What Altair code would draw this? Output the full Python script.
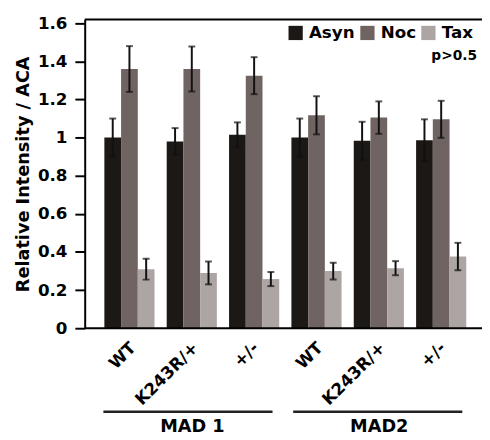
import altair as alt
import pandas as pd

# ---- data ----
groups = ["MAD1|WT", "MAD1|K243R/+", "MAD1|+/-", "MAD2|WT", "MAD2|K243R/+", "MAD2|+/-"]
series = ["Asyn", "Noc", "Tax"]
asyn = [1.00, 0.98, 1.015, 1.00, 0.983, 0.986]
asyn_err = [0.10, 0.07, 0.065, 0.10, 0.10, 0.11]
noc = [1.36, 1.36, 1.325, 1.117, 1.105, 1.096]
noc_err = [0.12, 0.118, 0.097, 0.10, 0.085, 0.097]
tax = [0.31, 0.29, 0.258, 0.30, 0.315, 0.376]
tax_err = [0.055, 0.06, 0.037, 0.044, 0.037, 0.072]
colors = ["#1c1816", "#6f6462", "#aca5a3"]
y_ticks = [0, 0.2, 0.4, 0.6, 0.8, 1.0, 1.2, 1.4, 1.6]
group_labels = ["MAD 1", "MAD2"]

rows = []
for vals, errs, s in [(asyn, asyn_err, "Asyn"), (noc, noc_err, "Noc"), (tax, tax_err, "Tax")]:
    for g, v, e in zip(groups, vals, errs):
        rows.append({"group": g, "series": s, "value": v, "lo": v - e, "hi": v + e})
df = pd.DataFrame(rows)

W, H = 396, 314
FONT = "DejaVu Sans"

x_axis = alt.Axis(
    title=None,
    ticks=False,
    domain=False,
    labelAngle=-45,
    labelAlign="right",
    labelBaseline="middle",
    labelFontSize=17,
    labelPadding=17,
    labelOverlap=False,
    labelOffset={"condition": {"test": "indexof(datum.value, '+/-') >= 0", "value": 2}, "value": 4},
    labelExpr="split(datum.label, '|')[1]",
)
x_scale = alt.Scale(paddingInner=0.1956, paddingOuter=0.2208, align=0.714)
x_enc = alt.X("group:N", sort=groups, scale=x_scale, axis=x_axis)
xoff = alt.XOffset("series:N", sort=series, scale=alt.Scale(paddingInner=0, paddingOuter=0))
y_scale = alt.Scale(domain=[0, 1.62], nice=False, zero=True)
y_axis = alt.Axis(
    values=y_ticks,
    tickCount=9,
    format=".1~f",
    tickSize=10,
    labelPadding=8,
    labelFontSize=17,
    labelOverlap=False,
    labelFlush=False,
    title="Relative Intensity / ACA",
    titleFont=FONT,
    titleFontSize=18,
    titleFontWeight="bold",
    titleColor="black",
    titlePadding=5,
    grid=False,
)

base = alt.Chart(df)

bars = base.mark_bar().encode(
    x=x_enc,
    xOffset=xoff,
    y=alt.Y("value:Q", scale=y_scale, axis=y_axis),
    color=alt.Color(
        "series:N",
        sort=series,
        scale=alt.Scale(domain=series, range=colors),
        legend=alt.Legend(
            title=None,
            orient="none",
            legendX=206,
            legendY=5,
            direction="horizontal",
            symbolType="square",
            symbolSize=210,
            symbolStrokeWidth=0,
            symbolOpacity=1,
            labelFont=FONT,
            labelFontWeight="bold",
            labelFontSize=17,
            labelColor="black",
            labelOffset=5,
            columnPadding=4,
            padding=0,
        ),
    ),
)

err = base.mark_rule(color="#111111", strokeWidth=2).encode(
    x=x_enc, xOffset=xoff, y=alt.Y("lo:Q", scale=y_scale, axis=y_axis), y2="hi:Q"
)
cap_hi = base.mark_tick(color="#111111", thickness=2, size=7, orient="horizontal").encode(
    x=x_enc, xOffset=xoff, y=alt.Y("hi:Q", scale=y_scale, axis=y_axis)
)
cap_lo = base.mark_tick(color="#111111", thickness=2, size=7, orient="horizontal").encode(
    x=x_enc, xOffset=xoff, y=alt.Y("lo:Q", scale=y_scale, axis=y_axis)
)

frame_top = alt.Chart(pd.DataFrame({"k": [0]})).mark_rule(color="black", strokeWidth=2).encode(
    x=alt.value(0), x2=alt.value(404), y=alt.value(0)
)
frame_bot = alt.Chart(pd.DataFrame({"k": [0]})).mark_rule(color="black", strokeWidth=2).encode(
    x=alt.value(0), x2=alt.value(404), y=alt.value(H)
)

pval = alt.Chart(pd.DataFrame({"t": ["p>0.5"]})).mark_text(
    font=FONT, fontWeight="bold", fontSize=14, align="right", baseline="alphabetic", color="black"
).encode(text="t:N", x=alt.value(399), y=alt.value(41))

line1 = alt.Chart(pd.DataFrame({"k": [0]})).mark_rule(color="#222222", strokeWidth=2.5).encode(
    x=alt.value(19), x2=alt.value(191), y=alt.value(399)
)
line2 = alt.Chart(pd.DataFrame({"k": [0]})).mark_rule(color="#222222", strokeWidth=2.5).encode(
    x=alt.value(212), x2=alt.value(384), y=alt.value(399)
)
lab_df = pd.DataFrame({"t": group_labels, "px": [109.5, 299.5]})
glabels = alt.Chart(lab_df).mark_text(
    font=FONT, fontWeight="bold", fontSize=18, align="center", baseline="alphabetic", color="black"
).encode(text="t:N", x=alt.X("px:Q", scale=None), y=alt.value(420))

chart = alt.layer(
    bars, err, cap_hi, cap_lo, frame_top, frame_bot, pval, line1, line2, glabels
).properties(
    width=W,
    height=H,
    autosize=alt.AutoSizeParams(type="none"),
    padding={"left": 78, "top": 8, "right": 8, "bottom": 108},
).configure_view(stroke=None).configure_axis(
    domainColor="black",
    domainWidth=2,
    tickColor="black",
    tickWidth=2,
    labelFont=FONT,
    labelFontWeight="bold",
    labelColor="black",
    labelOverlap=False,
)

chart.save("out.html", embed_options={"renderer": "svg", "actions": False})
